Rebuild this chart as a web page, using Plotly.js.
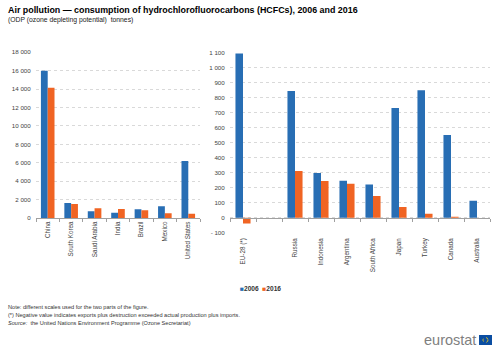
<!DOCTYPE html>
<html><head><meta charset="utf-8">
<script src="https://cdn.plot.ly/plotly-3.0.1.min.js"></script>
<style>html,body{margin:0;padding:0;background:#fff}#chart{width:500px;height:353px}</style>
</head><body><div id="chart"></div>
<script>
const seriesNames = ["2006", "2016"];
const leftCategories = ["China", "South Korea", "Saudi Arabia", "India", "Brazil", "Mexico", "United States"];
const left2006 = [16000, 1640, 730, 580, 950, 1280, 6180];
const left2016 = [14150, 1530, 1060, 990, 840, 510, 470];
const rightCategories = ["EU-28 (*)", " ", "Russia", "Indonesia", "Argentina", "South Africa", "Japan", "Turkey", "Canada", "Australia"];
const right2006 = [1095, null, 844, 298, 247, 222, 731, 849, 551, 113];
const right2016 = [-38, null, 311, 244, 227, 144, 71, 27, 7, null];
const rightTickVals = [-100, 0, 100, 200, 300, 400, 500, 600, 700, 800, 900, 1000, 1100];

const blue = "#286EB4", orange = "#F06423";
const font = "Liberation Sans, Arial, sans-serif";
const W = 500, H = 353;
const py = v => (H - v) / H;

function fmt(v) {
  const s = String(Math.abs(v)).replace(/\B(?=(\d{3})+(?!\d))/g, " ");
  return (v < 0 ? "- " : "") + s;
}

const traces = [
  {type: "bar", name: seriesNames[0], x: leftCategories, y: left2006, marker: {color: blue}, xaxis: "x", yaxis: "y"},
  {type: "bar", name: seriesNames[1], x: leftCategories, y: left2016, marker: {color: orange}, xaxis: "x", yaxis: "y"},
  {type: "bar", name: seriesNames[0], x: rightCategories, y: right2006, marker: {color: blue}, xaxis: "x2", yaxis: "y2"},
  {type: "bar", name: seriesNames[1], x: rightCategories, y: right2016, marker: {color: orange}, xaxis: "x2", yaxis: "y2"}
];

const tickFont = {family: font, size: 6.2, color: "#444"};
const catFont = {family: font, size: 6.3, color: "#444"};

const layout = {
  width: W, height: H,
  margin: {l: 0, r: 0, t: 0, b: 0},
  paper_bgcolor: "#fff", plot_bgcolor: "rgba(0,0,0,0)",
  showlegend: false,
  separators: ", ",
  barmode: "group", bargap: 0.42, bargroupgap: 0,
  font: {family: font, size: 6, color: "#444"},
  xaxis: {
    domain: [36 / W, 200 / W], anchor: "y", type: "category",
    categoryorder: "array", categoryarray: leftCategories,
    showline: true, linecolor: "#a0a0a0", linewidth: 1,
    ticks: "outside", tickson: "boundaries", ticklen: 3, tickcolor: "#a0a0a0",
    tickangle: -90, tickfont: catFont, showgrid: false, fixedrange: true
  },
  yaxis: {
    domain: [py(218), py(52.3)], anchor: "x", range: [0, 18000], dtick: 2000,
    tickformat: ",d", tickfont: tickFont, showline: false, zeroline: false,
    ticks: "outside", ticklen: 3, tickcolor: "rgba(0,0,0,0)",
    gridcolor: "#d9d9d9", griddash: "dot", gridwidth: 1, fixedrange: true
  },
  xaxis2: {
    domain: [230 / W, 490 / W], anchor: "free", position: py(217.7), type: "category",
    categoryorder: "array", categoryarray: rightCategories,
    showline: true, linecolor: "#a0a0a0", linewidth: 1,
    ticks: "outside", tickson: "boundaries", ticklen: 3, tickcolor: "#a0a0a0",
    tickangle: -90, tickfont: catFont, showgrid: false, ticklabelstandoff: 17, fixedrange: true
  },
  yaxis2: {
    domain: [py(232.7), py(52.7)], anchor: "x2", range: [-100, 1100],
    tickvals: rightTickVals, ticktext: rightTickVals.map(fmt),
    tickfont: tickFont, showline: false, zeroline: false,
    ticks: "outside", ticklen: 3, tickcolor: "rgba(0,0,0,0)",
    gridcolor: "#d9d9d9", griddash: "dot", gridwidth: 1, fixedrange: true
  },
  annotations: [
    {xref: "paper", yref: "paper", x: 6 / W, y: py(10), xanchor: "left", yanchor: "middle", showarrow: false,
     text: "<b>Air pollution — consumption of hydrochlorofluorocarbons (HCFCs), 2006 and 2016</b>",
     font: {family: font, size: 8.9, color: "#000"}},
    {xref: "paper", yref: "paper", x: 6 / W, y: py(20.5), xanchor: "left", yanchor: "middle", showarrow: false,
     text: "(ODP (ozone depleting potential)  tonnes)", font: {family: font, size: 6.8, color: "#222"}},
    {xref: "paper", yref: "paper", x: 260 / W, y: py(288), xanchor: "center", yanchor: "middle", showarrow: false,
     text: '<span style="color:' + blue + '">■</span><b>' + seriesNames[0] + '</b>  <span style="color:' + orange + '">■</span><b>' + seriesNames[1] + '</b>',
     font: {family: font, size: 6.6, color: "#333"}},
    {xref: "paper", yref: "paper", x: 6 / W, y: py(307.3), xanchor: "left", yanchor: "middle", showarrow: false,
     text: "Note: different scales used for the two parts of the figure.", font: {family: font, size: 5.6, color: "#333"}},
    {xref: "paper", yref: "paper", x: 6 / W, y: py(315.3), xanchor: "left", yanchor: "middle", showarrow: false,
     text: "(*) Negative value indicates exports plus destruction exceeded actual production plus imports.", font: {family: font, size: 5.6, color: "#333"}},
    {xref: "paper", yref: "paper", x: 6 / W, y: py(323.3), xanchor: "left", yanchor: "middle", showarrow: false,
     text: "<i>Source:</i>  the United Nations Environment Programme (Ozone Secretariat)", font: {family: font, size: 5.6, color: "#333"}},
    {xref: "paper", yref: "paper", x: 477.5 / W, y: py(340), xanchor: "right", yanchor: "middle", showarrow: false,
     text: "eurostat", font: {family: font, size: 14.5, color: "#7f7f7f"}}
  ],
  shapes: [
    {type: "rect", xref: "paper", yref: "paper", x0: 479 / W, x1: 492 / W, y0: py(345), y1: py(335),
     fillcolor: "#0b4ea2", line: {width: 0}},
    {type: "circle", xref: "paper", yref: "paper", x0: 483 / W, x1: 488 / W, y0: py(342.5), y1: py(337.5),
     fillcolor: "rgba(0,0,0,0)", line: {color: "#ffd617", width: 0.8, dash: "dot"}}
  ]
};

Plotly.newPlot("chart", traces, layout, {displayModeBar: false, staticPlot: true});
</script>
</body></html>
